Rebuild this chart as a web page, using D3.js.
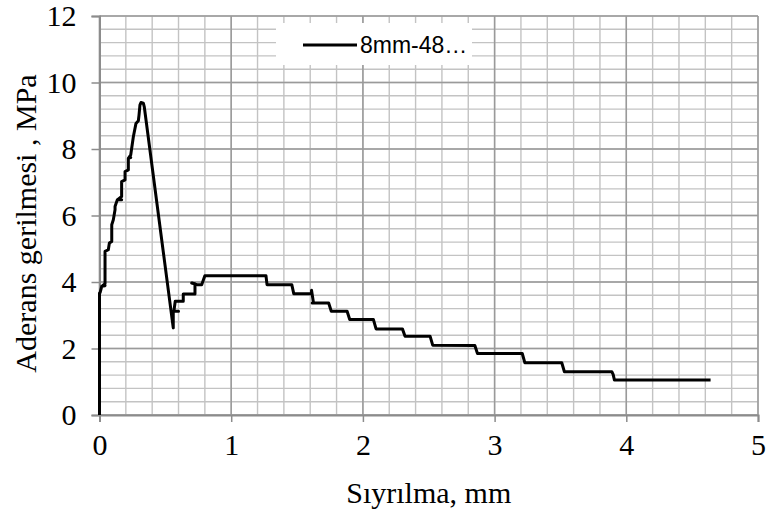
<!DOCTYPE html>
<html>
<head>
<meta charset="utf-8">
<script src="https://cdn.jsdelivr.net/npm/d3@7/dist/d3.min.js"></script>
<style>
html,body{margin:0;padding:0;background:#fff;}
svg{display:block;}
.serif{font-family:"Liberation Serif","Times New Roman",serif !important;}
.sans{font-family:"Liberation Sans",Arial,sans-serif !important;}
</style>
</head>
<body>
<svg id="chart" width="769" height="514"></svg>
<script>
const seriesName = "8mm-48\u2026";
const xTitle = "Sıyrılma, mm";
const yTitle = "Aderans gerilmesi , MPa";
const xTicks = [0, 1, 2, 3, 4, 5];
const yTicks = [0, 2, 4, 6, 8, 10, 12];
const slip = [0, 0, 0.004, 0.017, 0.042, 0.017, 0.042, 0.042, 0.067, 0.075, 0.093, 0.093, 0.105, 0.118, 0.118, 0.135, 0.168, 0.135, 0.168, 0.168, 0.194, 0.194, 0.219, 0.219, 0.237, 0.219, 0.237, 0.257, 0.277, 0.295, 0.30, 0.307, 0.315, 0.333, 0.34,
  0.56, 0.56, 0.60, 0.565, 0.575, 0.636, 0.636, 0.725, 0.725, 0.70, 0.74, 0.776, 0.80, 1.264, 1.272, 1.46, 1.475, 1.61, 1.61, 1.625, 1.615, 1.74, 1.76, 1.88, 1.90, 2.08, 2.10, 2.30, 2.32, 2.51, 2.53, 2.85, 2.87, 3.21, 3.23, 3.51, 3.53, 3.89, 3.90, 3.91, 4.64];
const stress = [0, 3.67, 3.67, 3.87, 3.89, 3.87, 3.95, 4.92, 4.97, 5.17, 5.22, 5.72, 5.87, 6.17, 6.27, 6.47, 6.47, 6.47, 6.57, 7.02, 7.07, 7.32, 7.37, 7.72, 7.74, 7.72, 7.82, 8.37, 8.77, 8.85, 9.02, 9.32, 9.40, 9.38, 9.27,
  2.62, 3.12, 3.12, 3.12, 3.42, 3.42, 3.64, 3.64, 3.95, 3.97, 3.92, 3.92, 4.19, 4.19, 3.92, 3.92, 3.65, 3.65, 3.75, 3.37, 3.37, 3.37, 3.12, 3.12, 2.87, 2.87, 2.59, 2.59, 2.37, 2.37, 2.10, 2.09, 1.85, 1.85, 1.57, 1.57, 1.30, 1.30, 1.22, 1.05, 1.05];

const svg = d3.select("#chart");
const L = 99.5, R = 758, T = 16, B = 415;
const x = d3.scaleLinear().domain([0, 5]).range([L, R]);
const y = d3.scaleLinear().domain([0, 12]).range([B, T]);

const grid = svg.append("g");
grid.selectAll("line.vmin").data(d3.range(0, 5.0001, 0.2)).join("line")
  .attr("x1", d => x(d)).attr("x2", d => x(d)).attr("y1", T).attr("y2", B)
  .attr("stroke", "#c3c3c3").attr("stroke-width", 1.4);
grid.selectAll("line.hmin").data(d3.range(0, 12.0001, 0.4)).join("line")
  .attr("y1", d => y(d)).attr("y2", d => y(d)).attr("x1", L).attr("x2", R)
  .attr("stroke", "#c3c3c3").attr("stroke-width", 1.4);
grid.selectAll("line.vmaj").data(xTicks).join("line")
  .attr("x1", d => x(d)).attr("x2", d => x(d)).attr("y1", T).attr("y2", B)
  .attr("stroke", "#9a9a9a").attr("stroke-width", 1.5);
grid.selectAll("line.hmaj").data(yTicks).join("line")
  .attr("y1", d => y(d)).attr("y2", d => y(d)).attr("x1", L).attr("x2", R)
  .attr("stroke", "#9a9a9a").attr("stroke-width", 1.5);

const xAxis = svg.append("g").attr("transform", `translate(0,${B})`)
  .call(d3.axisBottom(x).tickValues(xTicks).tickSize(7).tickPadding(12).tickFormat(d3.format("d")));
const yAxis = svg.append("g").attr("transform", `translate(${L},0)`)
  .call(d3.axisLeft(y).tickValues(yTicks).tickSize(8).tickPadding(15).tickFormat(d3.format("d")));
[xAxis, yAxis].forEach(a => {
  a.attr("font-family", null).attr("font-size", null);
  a.select(".domain").attr("stroke", "#8c8c8c").attr("stroke-width", 2);
  a.selectAll(".tick line").attr("stroke", "#8c8c8c").attr("stroke-width", 1.5);
  a.selectAll(".tick text").attr("class", "serif")
    .style("font-size", "30px").attr("fill", "#000");
});

const line = d3.line().x((d, i) => x(slip[i])).y((d, i) => y(stress[i]));
svg.append("path").datum(slip).attr("d", line)
  .attr("fill", "none").attr("stroke", "#000").attr("stroke-width", 3)
  .attr("stroke-linejoin", "round");

const lg = svg.append("g");
lg.append("rect").attr("x", 276).attr("y", 23).attr("width", 196).attr("height", 42).attr("fill", "#fff");
lg.append("line").attr("x1", 303).attr("x2", 357).attr("y1", 45).attr("y2", 45)
  .attr("stroke", "#000").attr("stroke-width", 3);
lg.append("text").attr("class", "sans").attr("x", 360).attr("y", 53).text(seriesName)
  .style("font-size", "23px").attr("fill", "#000");

svg.append("text").attr("class", "serif").attr("x", (L + R) / 2).attr("y", 503).attr("text-anchor", "middle")
  .style("font-size", "30px").text(xTitle);
svg.append("text").attr("class", "serif").attr("transform", `translate(36,${(T + B) / 2 + 8}) rotate(-90)`).attr("text-anchor", "middle")
  .style("font-size", "30px").text(yTitle);
</script>
</body>
</html>
